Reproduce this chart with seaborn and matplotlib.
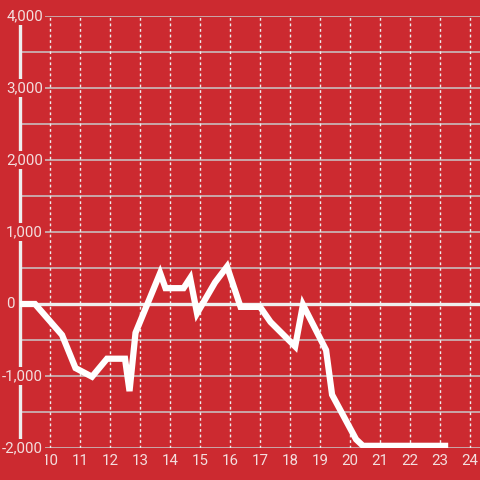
import matplotlib
matplotlib.use('Agg')
import matplotlib.pyplot as plt
import seaborn as sns

# data
hours = [9.0, 9.5, 10.4, 10.85, 11.4, 11.9, 12.5, 12.65, 12.85, 13.67, 13.85,
         14.45, 14.67, 14.9, 15.5, 15.9, 16.35, 17.0, 17.35, 18.17, 18.43,
         19.2, 19.4, 20.2, 20.43, 23.27]
values = [0, 0, -430, -890, -1010, -760, -760, -1210, -400, 430, 220,
          220, 360, -130, 300, 520, -40, -40, -250, -590, -10,
          -640, -1260, -1880, -1970, -1970]
x_ticks = list(range(10, 25))
y_ticks = [-2000, -1000, 0, 1000, 2000, 3000, 4000]
y_tick_labels = ['-2,000', '-1,000', '0', '1,000', '2,000', '3,000', '4,000']

red = '#cc2a30'
txt = '#f3dede'

sns.set_style('white')
plt.rcParams['font.family'] = ['Roboto', 'DejaVu Sans']

fig = plt.figure(figsize=(4.8, 4.8), dpi=100, facecolor=red)
ax = fig.add_axes([20 / 480, 32 / 480, 460 / 480, 432 / 480])
ax.set_facecolor(red)

# grid
for v in range(-2000, 4001, 500):
    if v != 0:
        ax.axhline(v, color='#c9c9c9', lw=1.1, zorder=1)
for h in x_ticks:
    ax.axvline(h, color='#eeeeee', lw=1, ls=(0, (2, 2)), zorder=1)
ax.axhline(0, color='#eeeeee', lw=2.4, zorder=1.5)

sns.lineplot(x=hours, y=values, ax=ax, color='white', lw=4.5, sort=False,
             solid_capstyle='butt', solid_joinstyle='miter', zorder=3)

ax.set_xlim(9.0, 24.33)
ax.set_ylim(-2000, 4000)

for s in ['top', 'right', 'bottom']:
    ax.spines[s].set_visible(False)
ax.spines['left'].set_color('#eeeeee')
ax.spines['left'].set_linewidth(2.4)
ax.spines['left'].set_zorder(1.2)

ax.set_xticks(x_ticks)
ax.set_xticklabels([str(t) for t in x_ticks])
ax.set_yticks(y_ticks)
ax.set_yticklabels([])
ax.tick_params(axis='x', length=0, pad=4, labelsize=10.8, labelcolor=txt)
ax.tick_params(axis='y', length=0)

# y labels sit on a red box over the spine
yx = ax.get_yaxis_transform()
for v, lab in zip(y_ticks, y_tick_labels):
    xpos = -5 / 460 if v == 0 else 23 / 460
    ax.text(xpos, v, lab, transform=yx, ha='right', va='center',
            fontsize=10.8, color=txt, zorder=2, clip_on=False,
            bbox=dict(boxstyle='square,pad=0.15', fc=red, ec='none'))

ax.set_xlabel('')
ax.set_ylabel('')
fig.savefig('out.png', dpi=100, facecolor=red)
